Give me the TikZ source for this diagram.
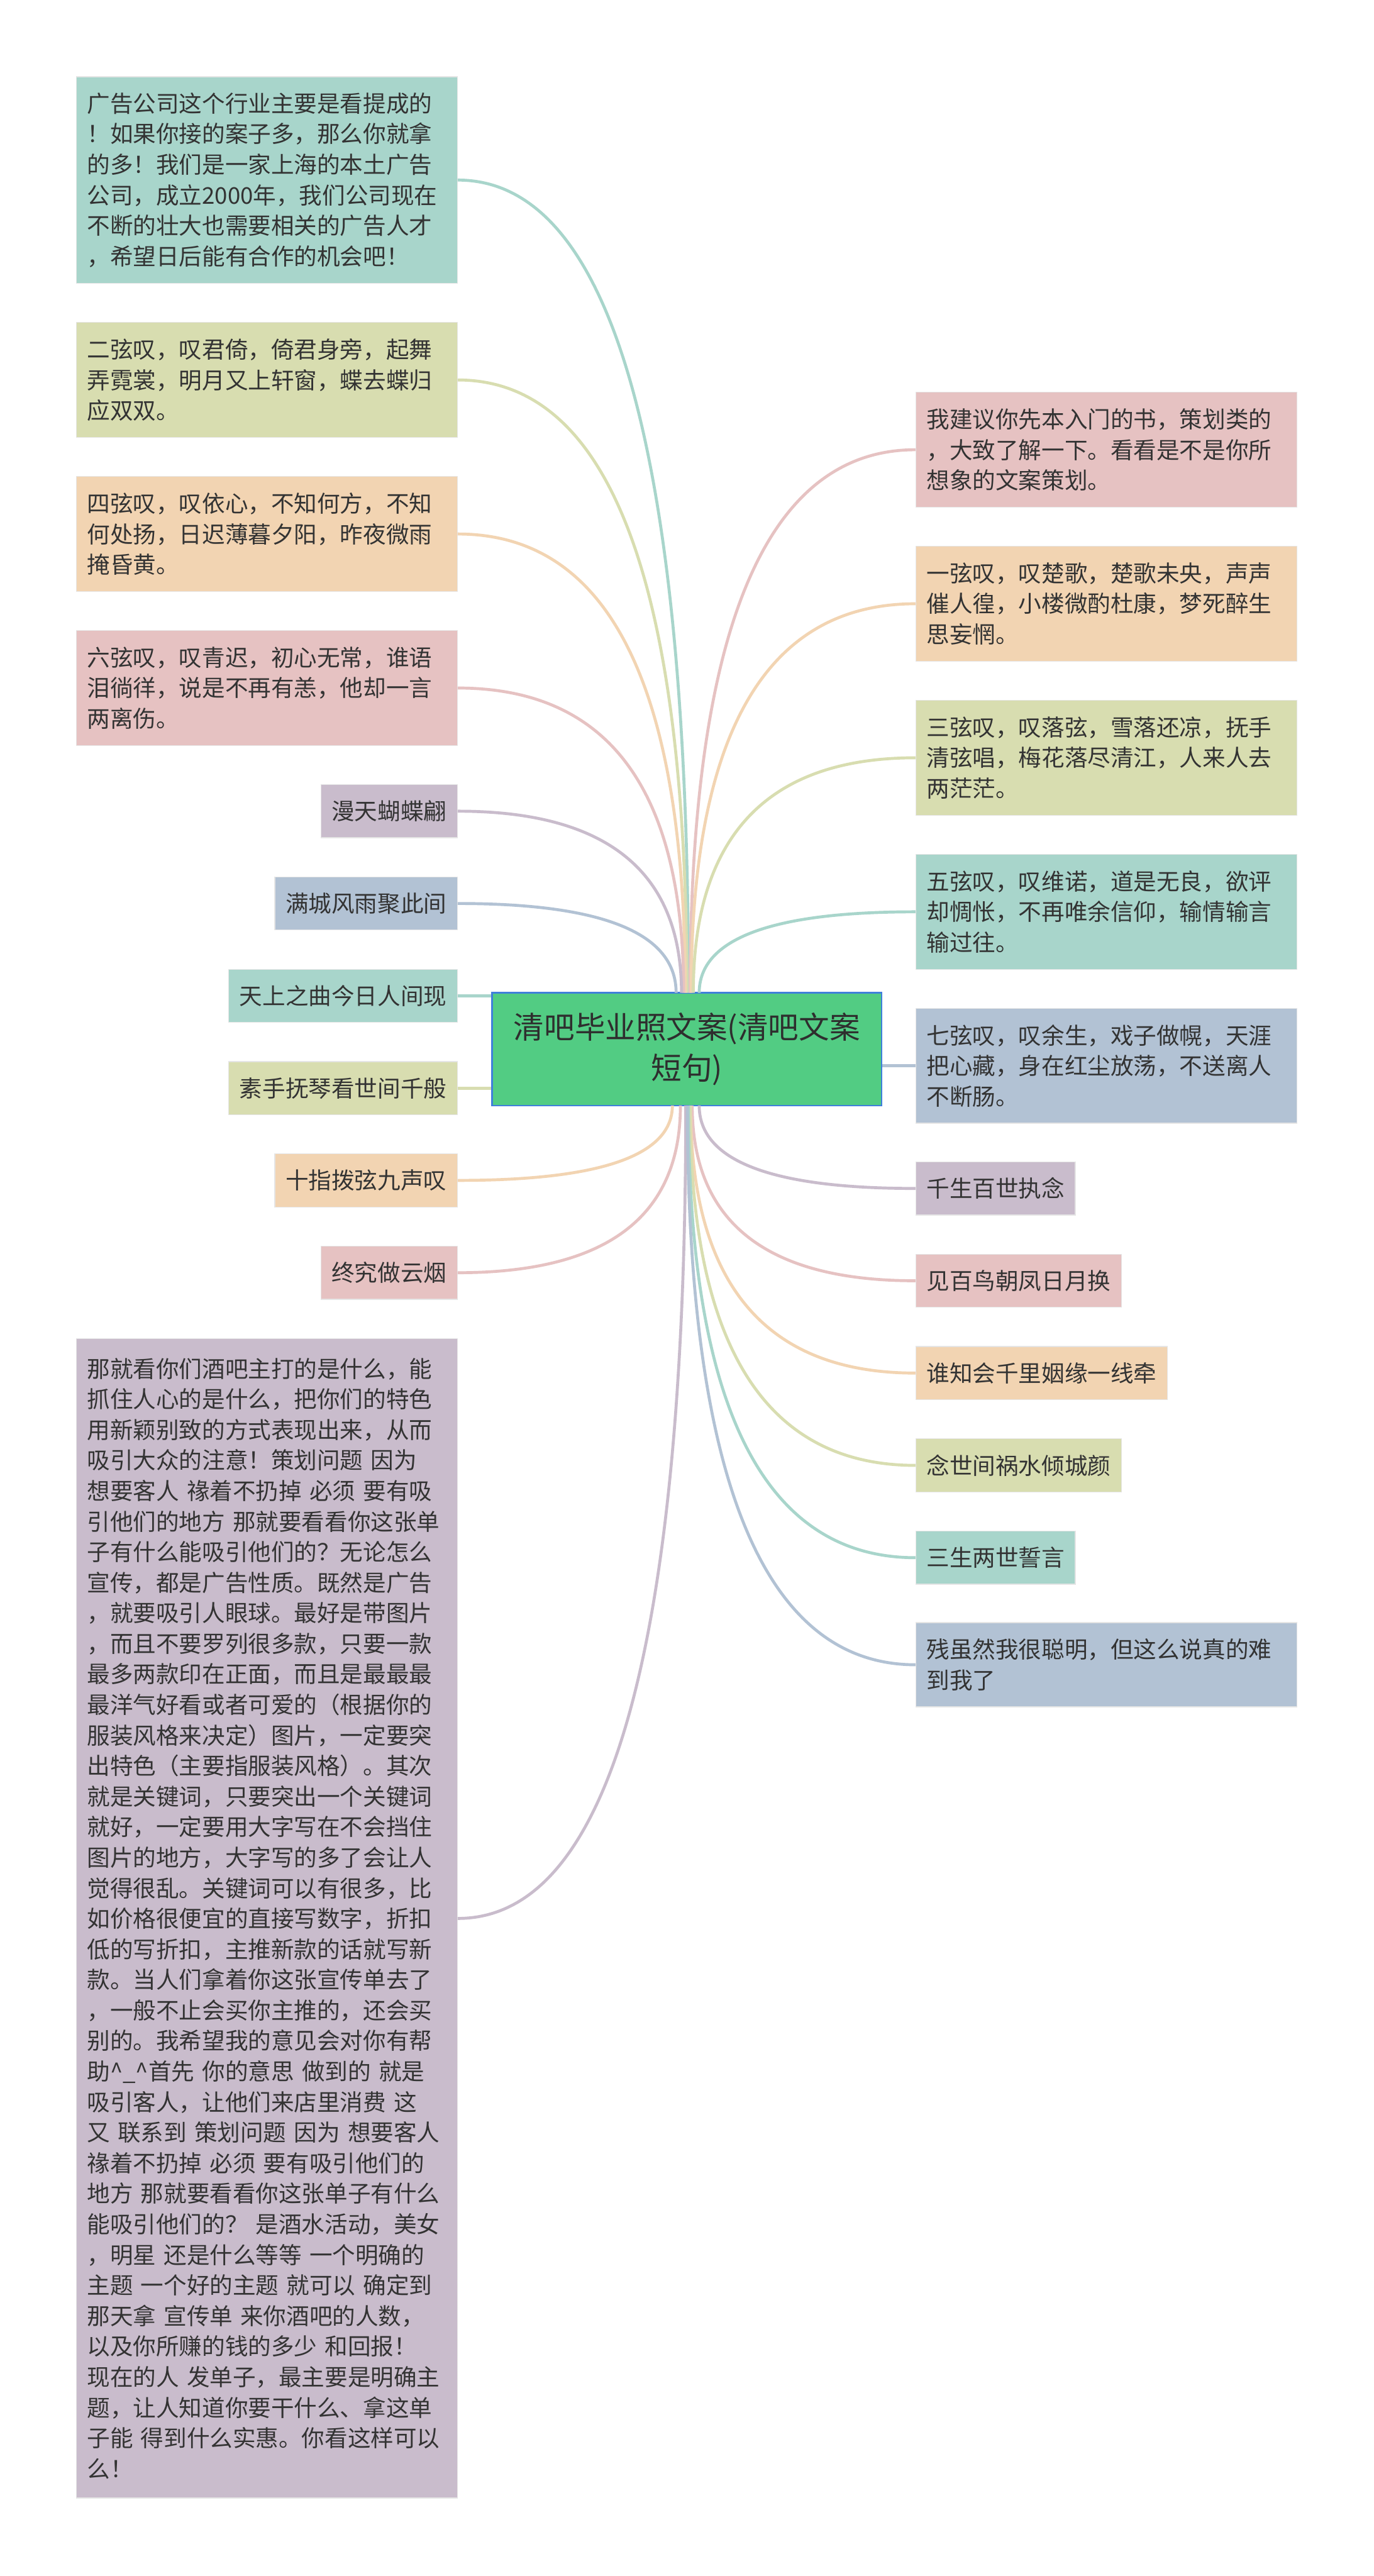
\documentclass[tikz,border=0pt]{standalone}
\usepackage{fontspec}
\setmainfont{Noto Sans CJK SC}
\usetikzlibrary{calc}
\definecolor{cteal}{HTML}{A8D5CB}
\definecolor{cgreen}{HTML}{D8DDB0}
\definecolor{cpeach}{HTML}{F2D4B2}
\definecolor{cpink}{HTML}{E6C2C2}
\definecolor{clav}{HTML}{C9BCCC}
\definecolor{cblue}{HTML}{B2C2D4}
\definecolor{hubfill}{HTML}{52CC83}
\definecolor{hubline}{HTML}{3F7FDB}
\definecolor{ink}{HTML}{333333}
\tikzset{
    leaf/.style = {
        rectangle,
        draw=white!90!black,
        line width=0.4pt,
        inner xsep=0.2cm,
        inner ysep=0cm,
        minimum height=0.99cm,
        align=left,
        text=ink,
        font=\fontsize{12.2pt}{16.2pt}\selectfont
    },
    note/.style = {
        leaf,
        text width=6.7cm
    },
    hub/.style = {
        rectangle,
        fill=hubfill,
        draw=hubline,
        line width=0.03cm,
        minimum width=7.26cm,
        minimum height=2.10cm,
        align=center,
        text=ink!90!black,
        font=\fontsize{16.2pt}{21.9pt}\selectfont
    },
    branch/.style = {
        line width=0.055cm
    }
}

\begin{document}
\begin{tikzpicture}
    \useasboundingbox (0,0) rectangle (25.6,-48);
    \fill[white] (0,0) rectangle (25.6,-48);

    \node [hub] (c) at (12.80,-19.55) {清吧毕业照文案(清吧文案\\短句)};

    \node [note, fill=cteal, anchor=east, minimum height=3.85cm] (L1) at (8.53,-3.355)
        {广告公司这个行业主要是看提成的\\！如果你接的案子多，那么你就拿\\的多！我们是一家上海的本土广告\\公司，成立2000年，我们公司现在\\不断的壮大也需要相关的广告人才\\，希望日后能有合作的机会吧！};
    \node [note, fill=cgreen, anchor=east, minimum height=2.14cm] (L2) at (8.53,-7.08)
        {二弦叹，叹君倚，倚君身旁，起舞\\弄霓裳，明月又上轩窗，蝶去蝶归\\应双双。};
    \node [note, fill=cpeach, anchor=east, minimum height=2.14cm] (L3) at (8.53,-9.95)
        {四弦叹，叹依心，不知何方，不知\\何处扬，日迟薄暮夕阳，昨夜微雨\\掩昏黄。};
    \node [note, fill=cpink, anchor=east, minimum height=2.14cm] (L4) at (8.53,-12.82)
        {六弦叹，叹青迟，初心无常，谁语\\泪徜徉，说是不再有恙，他却一言\\两离伤。};
    \node [leaf, fill=clav, anchor=east] (L5) at (8.53,-15.115) {漫天蝴蝶翩};
    \node [leaf, fill=cblue, anchor=east] (L6) at (8.53,-16.835) {满城风雨聚此间};
    \node [leaf, fill=cteal, anchor=east] (L7) at (8.53,-18.555) {天上之曲今日人间现};
    \node [leaf, fill=cgreen, anchor=east] (L8) at (8.53,-20.275) {素手抚琴看世间千般};
    \node [leaf, fill=cpeach, anchor=east] (L9) at (8.53,-21.995) {十指拨弦九声叹};
    \node [leaf, fill=cpink, anchor=east] (L10) at (8.53,-23.715) {终究做云烟};
    \node [note, fill=clav, anchor=north east, minimum height=21.60cm] (L11) at (8.53,-24.94)
        {那就看你们酒吧主打的是什么，能\\抓住人心的是什么，把你们的特色\\用新颖别致的方式表现出来，从而\\吸引大众的注意！策划问题 因为\\想要客人 禒着不扔掉 必须 要有吸\\引他们的地方 那就要看看你这张单\\子有什么能吸引他们的？无论怎么\\宣传，都是广告性质。既然是广告\\，就要吸引人眼球。最好是带图片\\，而且不要罗列很多款，只要一款\\最多两款印在正面，而且是最最最\\最洋气好看或者可爱的（根据你的\\服装风格来决定）图片，一定要突\\出特色（主要指服装风格）。其次\\就是关键词，只要突出一个关键词\\就好，一定要用大字写在不会挡住\\图片的地方，大字写的多了会让人\\觉得很乱。关键词可以有很多，比\\如价格很便宜的直接写数字，折扣\\低的写折扣，主推新款的话就写新\\款。当人们拿着你这张宣传单去了\\，一般不止会买你主推的，还会买\\别的。我希望我的意见会对你有帮\\助\textasciicircum\_\textasciicircum 首先 你的意思 做到的 就是\\吸引客人，让他们来店里消费 这\\又 联系到 策划问题 因为 想要客人\\禒着不扔掉 必须 要有吸引他们的\\地方 那就要看看你这张单子有什么\\能吸引他们的？ 是酒水活动，美女\\，明星 还是什么等等 一个明确的\\主题 一个好的主题 就可以 确定到\\那天拿 宣传单 来你酒吧的人数，\\以及你所赚的钱的多少 和回报！\\现在的人 发单子，最主要是明确主\\题，让人知道你要干什么、拿这单\\子能 得到什么实惠。你看这样可以\\么！};

    \node [note, fill=cpink, anchor=west, minimum height=2.14cm] (R1) at (17.06,-8.38)
        {我建议你先本入门的书，策划类的\\，大致了解一下。看看是不是你所\\想象的文案策划。};
    \node [note, fill=cpeach, anchor=west, minimum height=2.14cm] (R2) at (17.06,-11.25)
        {一弦叹，叹楚歌，楚歌未央，声声\\催人徨，小楼微酌杜康，梦死醉生\\思妄惘。};
    \node [note, fill=cgreen, anchor=west, minimum height=2.14cm] (R3) at (17.06,-14.12)
        {三弦叹，叹落弦，雪落还凉，抚手\\清弦唱，梅花落尽清江，人来人去\\两茫茫。};
    \node [note, fill=cteal, anchor=west, minimum height=2.14cm] (R4) at (17.06,-16.99)
        {五弦叹，叹维诺，道是无良，欲评\\却惆怅，不再唯余信仰，输情输言\\输过往。};
    \node [note, fill=cblue, anchor=west, minimum height=2.14cm] (R5) at (17.06,-19.86)
        {七弦叹，叹余生，戏子做幌，天涯\\把心藏，身在红尘放荡，不送离人\\不断肠。};
    \node [leaf, fill=clav, anchor=west] (R6) at (17.06,-22.145) {千生百世执念};
    \node [leaf, fill=cpink, anchor=west] (R7) at (17.06,-23.865) {见百鸟朝凤日月换};
    \node [leaf, fill=cpeach, anchor=west] (R8) at (17.06,-25.585) {谁知会千里姻缘一线牵};
    \node [leaf, fill=cgreen, anchor=west] (R9) at (17.06,-27.305) {念世间祸水倾城颜};
    \node [leaf, fill=cteal, anchor=west] (R10) at (17.06,-29.025) {三生两世誓言};
    \node [note, fill=cblue, anchor=west, minimum height=1.57cm] (R11) at (17.06,-31.02)
        {残虽然我很聪明，但这么说真的难\\到我了};

    \coordinate (t6) at (12.60,-18.50);
    \coordinate (t5) at (12.70,-18.50);
    \coordinate (t4) at (12.74,-18.50);
    \coordinate (t3) at (12.77,-18.50);
    \coordinate (t2) at (12.80,-18.50);
    \coordinate (t1) at (12.83,-18.50);
    \coordinate (u1) at (12.86,-18.50);
    \coordinate (u2) at (12.88,-18.50);
    \coordinate (u3) at (12.92,-18.50);
    \coordinate (u4) at (13.03,-18.50);
    \coordinate (b9) at (12.53,-20.60);
    \coordinate (b10) at (12.68,-20.60);
    \coordinate (b11) at (12.78,-20.60);
    \coordinate (v11) at (12.81,-20.60);
    \coordinate (v10) at (12.83,-20.60);
    \coordinate (v9) at (12.86,-20.60);
    \coordinate (v8) at (12.87,-20.60);
    \coordinate (v7) at (12.90,-20.60);
    \coordinate (v6) at (13.03,-20.60);

    \foreach \s/\n/\col in {t1/L1.east/cteal, t2/L2.east/cgreen, t3/L3.east/cpeach,
            t4/L4.east/cpink, t5/L5.east/clav, t6/L6.east/cblue,
            b9/L9.east/cpeach, b10/L10.east/cpink, b11/L11.east/clav,
            u1/R1.west/cpink, u2/R2.west/cpeach, u3/R3.west/cgreen, u4/R4.west/cteal,
            v6/R6.west/clav, v7/R7.west/cpink, v8/R8.west/cpeach, v9/R9.west/cgreen,
            v10/R10.west/cteal, v11/R11.west/cblue}
        \draw [branch, \col] (\s) .. controls ($(\s)!.667!(\s|-\n)$) and ($(\n)!.667!(\s|-\n)$) .. (\n);

    \draw [branch, cteal] (L7.east) -- (L7.east -| c.west);
    \draw [branch, cgreen] (L8.east) -- (L8.east -| c.west);
    \draw [branch, cblue] (R5.west) -- (R5.west -| c.east);
\end{tikzpicture}
\end{document}
